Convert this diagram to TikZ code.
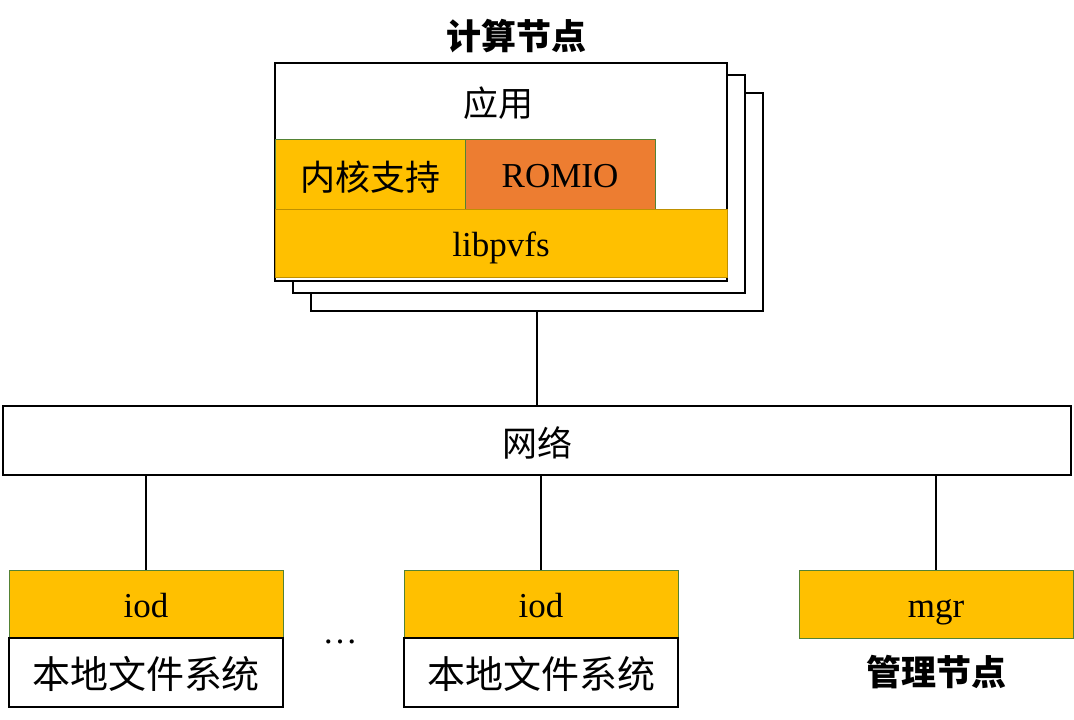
\documentclass[tikz,border=0pt]{standalone}
\usepackage{fontspec}
\setmainfont{Liberation Serif}
\newfontfamily\cjk{Noto Sans CJK SC}
\usetikzlibrary{positioning}
\definecolor{pvfsyellow}{HTML}{FFC000}
\definecolor{pvfsorange}{HTML}{ED7D31}
\definecolor{pvfsgreen}{HTML}{548235}
\definecolor{pvfsdark}{HTML}{BF9000}

\begin{document}
\begin{tikzpicture}[x=1pt,y=-1pt,
every node/.style={inner sep=0pt,outer sep=0pt,font=\fontsize{35}{40}\selectfont},
latin/.style={text height=28pt,text depth=2pt},
cjktext/.style={text height=32pt,text depth=0pt},
plainbox/.style={draw,line width=2pt,fill=white},
yellowbox/.style={draw=pvfsgreen,line width=1pt,fill=pvfsyellow},
orangebox/.style={draw=pvfsgreen,line width=1pt,fill=pvfsorange},
pvfsbox/.style={draw=pvfsdark,line width=1pt,fill=pvfsyellow}
]
\useasboundingbox (0,0) rectangle (1074,720);
% compute node stack
\node[plainbox,anchor=north west,minimum width=452pt,minimum height=218pt] (back2) at (311,93) {};
\node[plainbox,anchor=north west,minimum width=452pt,minimum height=218pt] (back1) at (293,75) {};
\node[plainbox,anchor=north west,minimum width=452pt,minimum height=218pt] (app) at (275,63) {};
\node (apptext) at (498,103) {\cjk 应用};
\node[yellowbox,cjktext,anchor=north west,minimum width=190pt,minimum height=70pt] (kern) at (275,139) {\cjk 内核支持};
\node[orangebox,latin,anchor=north west,minimum width=190pt,minimum height=70pt] (romio) at (kern.north east) {ROMIO};
\node[pvfsbox,latin,anchor=north west,minimum width=452pt,minimum height=68pt] (libpvfs) at (275,209) {libpvfs};
\node[font=\fontsize{35}{40}\selectfont\bfseries] (title) at (516,36) {\cjk 计算节点};
% network
\node[plainbox,cjktext,minimum width=1068pt,minimum height=69pt] (net) at (537,440) {\cjk 网络};
\draw[line width=2pt] (back2.south) -- (net.north);
% io daemons
\node[yellowbox,latin,anchor=north west,minimum width=274pt,minimum height=68pt] (iod1) at (9,570) {iod};
\node[plainbox,cjktext,anchor=north,minimum width=274pt,minimum height=69pt,font=\fontsize{38}{42}\selectfont] (fs1) at (iod1.south) {\cjk 本地文件系统};
\node[yellowbox,latin,anchor=north west,minimum width=274pt,minimum height=68pt] (iod2) at (404,570) {iod};
\node[plainbox,cjktext,anchor=north,minimum width=274pt,minimum height=69pt,font=\fontsize{38}{42}\selectfont] (fs2) at (iod2.south) {\cjk 本地文件系统};
\node (dots) at (340,642) {\ldots};
\node[yellowbox,latin,anchor=north west,minimum width=274pt,minimum height=68pt] (mgr) at (799,570) {mgr};
\node[font=\fontsize{35}{40}\selectfont\bfseries] (mgrlabel) at (936,672) {\cjk 管理节点};
\foreach \n in {iod1,iod2,mgr}
  \draw[line width=2pt] (net.south -| \n.north) -- (\n.north);
\end{tikzpicture}
\end{document}
